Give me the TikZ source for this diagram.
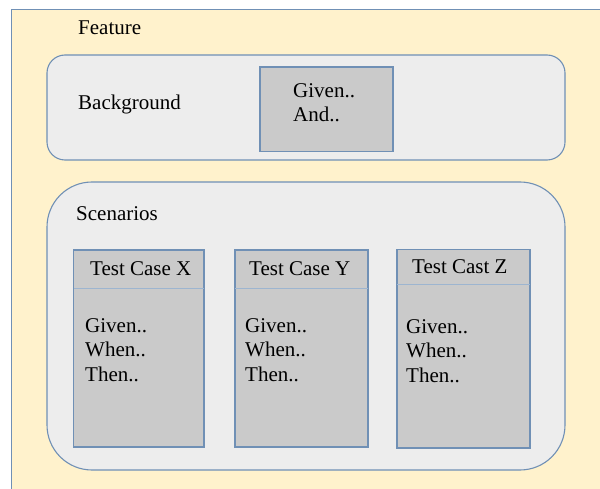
\documentclass[tikz,border=0pt]{standalone}
\usepackage{fontspec}
\setmainfont{Liberation Serif}
\definecolor{outerfill}{HTML}{FFF2CC}
\definecolor{boxfill}{HTML}{EDEDED}
\definecolor{cardfill}{HTML}{CACACA}
\definecolor{edge}{HTML}{7090B5}
\definecolor{divider}{HTML}{9DB5D0}
\tikzset{
  frameline/.style={draw=edge, line width=1.3pt},
  panel/.style={fill=boxfill, draw=edge, line width=1.1pt},
  card/.style={fill=cardfill, draw=edge, line width=1.1pt},
  sep/.style={draw=divider, line width=1pt},
  txt/.style={anchor=base west, inner sep=0pt, font=\fontsize{21}{25}\selectfont},
}
\begin{document}
\begin{tikzpicture}[x=1pt,y=-1pt]
\useasboundingbox (0,0) rectangle (600,489);
\fill[white] (0,0) rectangle (600,489);
% outer frame (only top and left edges are visible)
\fill[outerfill] (11.5,9.5) rectangle (600,489);
\draw[frameline] (11.5,489) -- (11.5,9.5) -- (600,9.5);
\node[txt] (feature) at (78,35) {Feature};
% background panel
\draw[panel, rounded corners=18pt] (47,55) rectangle (565,160);
\node[txt] (bg) at (78,110) {Background};
\draw[card] (260,67) rectangle (393,151.5);
\node[txt] (bg1) at (293,97.5) {Given..};
\node[txt] (bg2) at (293,121.5) {And..};
% scenarios panel
\draw[panel, rounded corners=45pt] (47,182) rectangle (565,470);
\node[txt] (sc) at (76,221) {Scenarios};
% Test case X
\draw[card] (73.5,250) rectangle (204,447);
\draw[sep] (73.5,289) -- (204,289);
\node[txt] (tx) at (90,276) {Test Case X};
\node[txt] (x1) at (85,332) {Given..};
\node[txt] (x2) at (85,356.5) {When..};
\node[txt] (x3) at (85,381) {Then..};
% Test case Y
\draw[card] (235,250) rectangle (368,447);
\draw[sep] (235,289) -- (368,289);
\node[txt] (ty) at (249,276) {Test Case Y};
\node[txt] (y1) at (245,332) {Given..};
\node[txt] (y2) at (245,356.5) {When..};
\node[txt] (y3) at (245,381) {Then..};
% Test cast Z
\draw[card] (397,249.5) rectangle (530,448);
\draw[sep] (397,285) -- (530,285);
\node[txt] (tz) at (412,274) {Test Cast Z};
\node[txt] (z1) at (406,333) {Given..};
\node[txt] (z2) at (406,357.5) {When..};
\node[txt] (z3) at (406,382) {Then..};
\end{tikzpicture}
\end{document}
